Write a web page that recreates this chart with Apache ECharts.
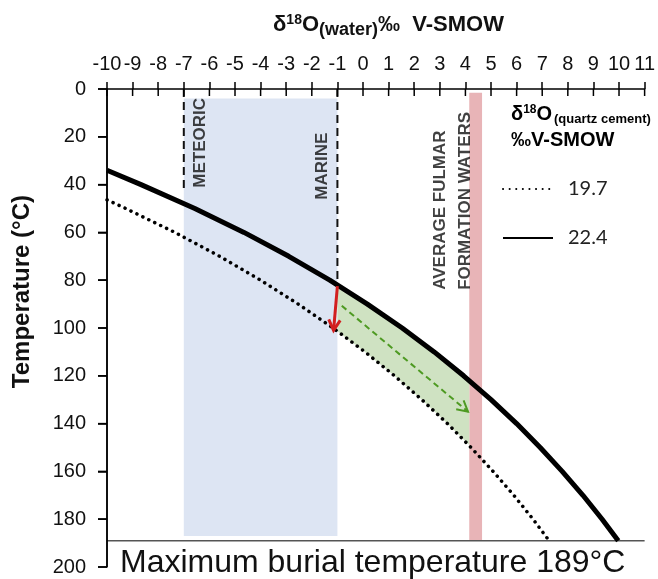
<!DOCTYPE html>
<html>
<head>
<meta charset="utf-8">
<script src="https://cdn.jsdelivr.net/npm/echarts@6/dist/echarts.min.js"></script>
<style>
  html, body { margin: 0; padding: 0; background: #fff; }
  #main { width: 658px; height: 579px; }
</style>
</head>
<body>
<div id="main"></div>
<script>
// curve 22.4 permil (solid) : temperature (°C) and d18O water
var temp224 = [34, 40, 50, 60, 70, 80, 90, 100, 110, 120, 130, 140, 150, 160, 170, 180, 189];
var water224 = [-10, -8.67, -6.57, -4.65, -2.9, -1.3, 0.17, 1.53, 2.78, 3.93, 5.0, 6.0, 6.92, 7.78, 8.59, 9.34, 9.97];
// curve 19.7 permil (dotted)
var temp197 = [46.4, 50, 60, 70, 80, 90, 100, 110, 120, 130, 140, 150, 160, 170, 180, 189];
var water197 = [-10, -9.27, -7.35, -5.6, -4.0, -2.53, -1.17, 0.08, 1.23, 2.3, 3.3, 4.22, 5.08, 5.89, 6.64, 7.27];

// green zone between the curves (marine -> fulmar waters)
var greenX = [-1, 0.17, 1.53, 2.78, 3.93, 4.15, 4.15, 3.3, 2.3, 1.23, 0.08, -1];
var greenT = [82, 90, 100, 110, 120, 122, 149, 140, 130, 120, 110, 101.4];

// shaded bands [x1, t1, x2, t2]
var meteoricMarineBand = [-7, 4, -1, 187];
var fulmarBand = [4.15, 1.6, 4.65, 189];

// dashed limits
var meteoricLine = [[-7, 0], [-7, 43]];
var marineLine = [[-1, 0], [-1, 80]];
var maxBurialT = 189;

// arrows [x1, t1, x2, t2]
var redArrow = [[-1.0, 82.5, -1.15, 101]];
var greenArrow = [[-0.83, 90.7, 4.1, 135]];

// tick values
var xTicks = [-10, -9, -8, -7, -6, -5, -4, -3, -2, -1, 0, 1, 2, 3, 4, 5, 6, 7, 8, 9, 10, 11];
var yTicks = [0, 20, 40, 60, 80, 100, 120, 140, 160, 180, 200];

var labelFont = 'Liberation Sans, Arial, sans-serif';

function pairs(xs, ys) {
  return xs.map(function (x, i) { return [x, ys[i]]; });
}

function axisStroke() {
  return { stroke: '#000', lineWidth: 1.5 };
}

function arrowRender(color, width, dash) {
  return function (params, api) {
    var p1 = api.coord([api.value(0), api.value(1)]);
    var p2 = api.coord([api.value(2), api.value(3)]);
    var ang = Math.atan2(p2[1] - p1[1], p2[0] - p1[0]);
    var L = 12, a = 0.5;
    var h1 = [p2[0] - L * Math.cos(ang - a), p2[1] - L * Math.sin(ang - a)];
    var h2 = [p2[0] - L * Math.cos(ang + a), p2[1] - L * Math.sin(ang + a)];
    return {
      type: 'group',
      children: [
        { type: 'line', shape: { x1: p1[0], y1: p1[1], x2: p2[0], y2: p2[1] },
          style: { stroke: color, lineWidth: width, lineDash: dash } },
        { type: 'polyline', shape: { points: [h1, p2, h2] },
          style: { stroke: color, lineWidth: width, fill: null } }
      ]
    };
  };
}

var myChart = echarts.init(document.getElementById('main'));

var option = {
  animation: false,
  backgroundColor: '#fff',
  title: {
    left: 268,
    top: 6,
    text: '{a|δ}{s|18}{a|O}{b|(water)}{a|‰  V-SMOW}',
    textStyle: {
      rich: {
        a: { fontFamily: labelFont, fontWeight: 'bold', fontSize: 22, color: '#111' },
        s: { fontFamily: labelFont, fontWeight: 'bold', fontSize: 14, color: '#111', padding: [0, 0, 9, 0] },
        b: { fontFamily: labelFont, fontWeight: 'bold', fontSize: 18, color: '#111', padding: [10, 0, 0, 0] }
      }
    }
  },
  legend: {
    data: [
      { name: '19.7', itemStyle: { opacity: 0 } },
      { name: '22.4', itemStyle: { opacity: 0 } }
    ],
    orient: 'vertical',
    left: 497,
    top: 174,
    itemWidth: 50,
    itemHeight: 14,
    itemGap: 29,
    textStyle: { fontFamily: 'Lato, sans-serif', fontSize: 20, color: '#222', padding: [0, 0, 0, 10] }
  },
  grid: { left: 107, right: 13, top: 89, bottom: 12 },
  xAxis: {
    type: 'value',
    position: 'top',
    min: -10,
    max: 11,
    interval: 1,
    axisLine: { onZero: false, lineStyle: { color: '#000', width: 1.5 } },
    axisTick: { inside: false, length: 7, lineStyle: { color: '#000', width: 1.5 } },
    axisLabel: { interval: 0, margin: 15, fontSize: 20, fontFamily: labelFont, color: '#111' },
    splitLine: { show: false }
  },
  yAxis: {
    type: 'value',
    inverse: true,
    min: 0,
    max: 200,
    interval: 20,
    zlevel: 1,
    z: 10,
    axisLine: { show: true, onZero: false, lineStyle: { color: '#000', width: 1.5 } },
    axisTick: { show: true, length: 9, lineStyle: { color: '#000', width: 1.5 } },
    axisLabel: { margin: 21, fontSize: 20, fontFamily: labelFont, color: '#111' },
    splitLine: { show: false }
  },
  graphic: [{
    type: 'text',
    left: 10,
    top: 195,
    rotation: Math.PI / 2,
    style: { text: 'Temperature (°C)', font: 'bold 24px ' + labelFont, fill: '#111' }
  }, {
    type: 'text',
    left: 120,
    top: 547,
    style: { text: 'Maximum burial temperature 189°C', font: '32px ' + labelFont, fill: '#111' }
  }, {
    type: 'text',
    left: 511,
    top: 104,
    style: {
      text: '{a|δ}{s|18}{a|O}{b|(quartz cement)}\n{a|‰V-SMOW}',
      rich: {
        a: { fontFamily: labelFont, fontWeight: 'bold', fontSize: 20, color: '#111', lineHeight: 26 },
        s: { fontFamily: labelFont, fontWeight: 'bold', fontSize: 12, color: '#111', padding: [0, 0, 9, 0] },
        b: { fontFamily: labelFont, fontWeight: 'bold', fontSize: 13, color: '#111', padding: [10, 0, 0, 2] }
      }
    }
  }],
  series: [{
    type: 'line',
    data: [],
    silent: true,
    markArea: {
      silent: true,
      data: [
        [{ coord: [meteoricMarineBand[0], meteoricMarineBand[1]], itemStyle: { color: '#dde5f3' } },
         { coord: [meteoricMarineBand[2], meteoricMarineBand[3]] }],
        [{ coord: [fulmarBand[0], fulmarBand[1]], itemStyle: { color: '#e8b4b7' } },
         { coord: [fulmarBand[2], fulmarBand[3]] }]
      ]
    }
  }, {
    type: 'custom',
    silent: true,
    data: pairs(greenX, greenT),
    encode: { x: 0, y: 1 },
    renderItem: function (params, api) {
      if (params.dataIndex !== 0) return;
      var pts = greenX.map(function (x, i) { return api.coord([x, greenT[i]]); });
      return { type: 'polygon', shape: { points: pts }, style: { fill: '#cfe2c2' } };
    },
    z: 1
  }, {
    // left temperature axis line and ticks, drawn again on the upper layer
    type: 'custom',
    silent: true,
    clip: false,
    zlevel: 1,
    data: yTicks.map(function (t) { return [-10, t]; }),
    encode: { x: 0, y: 1 },
    renderItem: function (params, api) {
      var p = api.coord([api.value(0), api.value(1)]);
      var kids = [{ type: 'line', shape: { x1: p[0] - 9, y1: p[1], x2: p[0], y2: p[1] }, style: axisStroke() }];
      if (params.dataIndex === 0) {
        var top = api.coord([-10, yTicks[0]]);
        var bot = api.coord([-10, yTicks[yTicks.length - 1]]);
        kids.push({ type: 'line', shape: { x1: top[0], y1: top[1], x2: bot[0], y2: bot[1] }, style: axisStroke() });
      }
      return { type: 'group', children: kids };
    }
  }, {
    // lower half of the top axis ticks (they cross the axis line)
    type: 'custom',
    silent: true,
    clip: false,
    zlevel: 1,
    data: xTicks.map(function (x) { return [x, 0]; }),
    encode: { x: 0, y: 1 },
    renderItem: function (params, api) {
      var p = api.coord([api.value(0), api.value(1)]);
      return { type: 'line', shape: { x1: p[0], y1: p[1], x2: p[0], y2: p[1] + 7 }, style: axisStroke() };
    }
  }, {
    type: 'line',
    data: [[-10, maxBurialT], [11, maxBurialT]],
    symbol: 'none',
    silent: true,
    lineStyle: { color: '#555', width: 1.5 }
  }, {
    type: 'line',
    data: meteoricLine,
    symbol: 'none',
    silent: true,
    lineStyle: { color: '#111', width: 2, type: [8, 5] }
  }, {
    type: 'line',
    data: marineLine,
    symbol: 'none',
    silent: true,
    lineStyle: { color: '#111', width: 2, type: [8, 5] }
  }, {
    name: '19.7',
    type: 'line',
    data: pairs(water197, temp197),
    symbol: 'none',
    itemStyle: { color: '#000' },
    lineStyle: { color: '#000', width: 3.5, type: [0.1, 6.5], cap: 'round' },
    z: 3
  }, {
    name: '22.4',
    type: 'line',
    data: pairs(water224, temp224),
    symbol: 'none',
    itemStyle: { color: '#000' },
    lineStyle: { color: '#000', width: 5 },
    z: 3
  }, {
    type: 'custom',
    silent: true,
    data: greenArrow,
    encode: { x: [0, 2], y: [1, 3] },
    renderItem: arrowRender('#4e9a22', 2, [6, 4]),
    z: 4
  }, {
    type: 'custom',
    silent: true,
    data: redArrow,
    encode: { x: [0, 2], y: [1, 3] },
    renderItem: arrowRender('#d21f1f', 3, null),
    z: 4
  }, {
    type: 'scatter',
    symbolSize: 0,
    silent: true,
    label: {
      show: true,
      position: 'inside',
      rotate: 90,
      align: 'left',
      verticalAlign: 'middle',
      fontFamily: labelFont,
      fontWeight: 'bold',
      fontSize: 17,
      color: '#111'
    },
    data: [
      { value: [-6.37, 41.3], label: { formatter: 'METEORIC' } },
      { value: [-1.6, 46.3], label: { formatter: 'MARINE' } },
      { value: [3.01, 84], label: { formatter: 'AVERAGE FULMAR' } },
      { value: [3.98, 84], label: { formatter: 'FORMATION WATERS' } }
    ],
    z: 5
  }]
};

myChart.setOption(option);
</script>
</body>
</html>
